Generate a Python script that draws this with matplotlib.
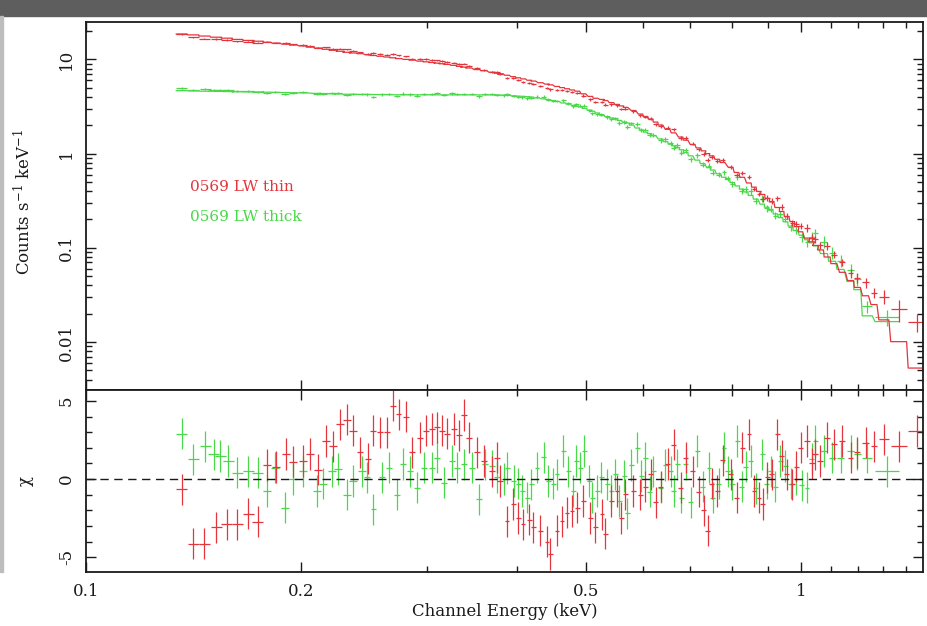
import numpy as np
import matplotlib
matplotlib.use("Agg")
import matplotlib.pyplot as plt
from matplotlib.patches import Rectangle
from matplotlib.ticker import FixedLocator, NullFormatter

# ---- 0569 LW thin (red): bin centre (keV), half width (keV), model (counts/s/keV),
#      residual chi, relative data error
E_red = [0.1361, 0.1413, 0.1464, 0.1520, 0.1574, 0.1628, 0.1687, 0.1739, 0.1790, 0.1843,
         0.1905, 0.1950, 0.2010, 0.2058, 0.2112, 0.2167, 0.2216, 0.2267, 0.2316, 0.2364,
         0.2417, 0.2480, 0.2521, 0.2578, 0.2634, 0.2686, 0.2735, 0.2804, 0.2856, 0.2933,
         0.2990, 0.3046, 0.3095, 0.3146, 0.3197, 0.3266, 0.3326, 0.3373, 0.3427, 0.3522,
         0.3597, 0.3695, 0.3755, 0.3796, 0.3878, 0.3957, 0.4021, 0.4086, 0.4166, 0.4220,
         0.4318, 0.4412, 0.4459, 0.4557, 0.4631, 0.4706, 0.4782, 0.4864, 0.4960, 0.5073,
         0.5155, 0.5268, 0.5324, 0.5428, 0.5528, 0.5605, 0.5678, 0.5827, 0.5960, 0.6057,
         0.6156, 0.6256, 0.6358, 0.6503, 0.6630, 0.6782, 0.6892, 0.7047, 0.7185, 0.7302,
         0.7396, 0.7492, 0.7631, 0.7762, 0.7965, 0.8120, 0.8270, 0.8449, 0.8587, 0.8726,
         0.8830, 0.8965, 0.9090, 0.9259, 0.9388, 0.9541, 0.9716, 0.9849, 0.9977, 1.019,
         1.034, 1.047, 1.064, 1.087, 1.111, 1.142, 1.172, 1.198, 1.230, 1.264,
         1.305, 1.369, 1.453]
dE_red = [0.0024, 0.0025, 0.0026, 0.0027, 0.0028, 0.0029, 0.0030, 0.0031, 0.0023, 0.0024,
          0.0025, 0.0025, 0.0026, 0.0027, 0.0027, 0.0028, 0.0029, 0.0029, 0.0030, 0.0030,
          0.0023, 0.0024, 0.0024, 0.0025, 0.0025, 0.0026, 0.0026, 0.0027, 0.0028, 0.0028,
          0.0029, 0.0029, 0.0030, 0.0030, 0.0031, 0.0032, 0.0032, 0.0033, 0.0033, 0.0034,
          0.0035, 0.0036, 0.0036, 0.0037, 0.0029, 0.0029, 0.0030, 0.0030, 0.0031, 0.0031,
          0.0032, 0.0033, 0.0033, 0.0034, 0.0034, 0.0035, 0.0035, 0.0036, 0.0037, 0.0038,
          0.0038, 0.0039, 0.0039, 0.0040, 0.0041, 0.0042, 0.0042, 0.0043, 0.0044, 0.0045,
          0.0046, 0.0046, 0.0047, 0.0048, 0.0049, 0.0050, 0.0051, 0.0052, 0.0053, 0.0054,
          0.0055, 0.0056, 0.0057, 0.0058, 0.0059, 0.0060, 0.0061, 0.0063, 0.0064, 0.0065,
          0.0065, 0.0066, 0.0067, 0.0069, 0.0070, 0.0071, 0.0072, 0.0073, 0.0074, 0.0099,
          0.0100, 0.0101, 0.0103, 0.0105, 0.0107, 0.0110, 0.0113, 0.0116, 0.0119, 0.0122,
          0.021, 0.035, 0.042]
model_red = [18.6, 18.2, 17.7, 17.2, 16.8, 16.3, 15.9, 15.6, 15.2, 14.9,
             14.5, 14.2, 13.9, 13.5, 13.2, 12.8, 12.5, 12.2, 11.9, 11.7,
             11.5, 11.2, 11.0, 10.8, 10.6, 10.4, 10.2, 10.0, 9.83, 9.59,
             9.42, 9.27, 9.13, 8.99, 8.85, 8.65, 8.43, 8.28, 8.11, 7.80,
             7.59, 7.31, 7.15, 7.03, 6.79, 6.56, 6.38, 6.21, 6.01, 5.89,
             5.66, 5.47, 5.37, 5.16, 5.02, 4.88, 4.74, 4.60, 4.31, 4.05,
             3.87, 3.76, 3.66, 3.48, 3.33, 3.21, 3.10, 2.87, 2.63, 2.48,
             2.33, 2.16, 2.01, 1.81, 1.66, 1.50, 1.39, 1.25, 1.15, 1.07,
             1.00, 0.946, 0.871, 0.805, 0.716, 0.631, 0.561, 0.488, 0.441, 0.397,
             0.369, 0.335, 0.307, 0.268, 0.243, 0.215, 0.190, 0.168, 0.148, 0.127,
             0.116, 0.106, 0.095, 0.080, 0.068, 0.055, 0.045, 0.038, 0.031, 0.025,
             0.0172, 0.0101, 0.0053]
chi_red = [-0.66, -4.15, -4.15, -3.08, -2.9, -2.9, -2.22, -2.74, 0.9, 0.77,
           1.6, 1.1, 1.15, 1.6, 0.6, 2.44, 2.1, 3.5, 3.8, 3.1,
           1.7, 1.3, 3.1, 3.0, 3.0, 4.7, 4.15, 4.0, 1.7, 2.65,
           3.1, 3.2, 3.3, 3.1, 2.9, 3.2, 2.8, 4.1, 2.65, 1.7,
           1.15, 0.5, 1.37, -0.13, -2.7, -1.6, -2.5, -2.9, -2.6, -3.1,
           -3.3, -4.0, -4.8, -3.3, -2.7, -2.16, -2.05, -1.84, -1.4, -2.5,
           -3.1, -2.26, -3.5, -1.4, -0.77, -2.5, -0.98, -0.77, -1.0, -0.5,
           0.3, -1.5, -0.5, 0.96, 2.2, -0.55, 1.37, 0.5, -0.8, -2.0,
           -3.3, -0.3, -0.77, 1.2, 0.3, -1.2, 2.0, 2.86, -0.77, -1.2,
           -1.6, 0.1, 0.3, 2.86, 1.5, 0.3, -0.34, 0.8, 2.0, 2.44,
           1.0, 1.58, 1.15, 2.65, 2.22, 2.44, 1.37, 1.7, 2.33, 2.1,
           2.54, 2.1, 3.08]
relerr_red = [0.015, 0.015, 0.015, 0.015, 0.015, 0.015, 0.015, 0.015, 0.018, 0.018,
              0.018, 0.018, 0.018, 0.018, 0.018, 0.018, 0.018, 0.018, 0.018, 0.018,
              0.018, 0.018, 0.018, 0.018, 0.018, 0.018, 0.018, 0.018, 0.02, 0.02,
              0.02, 0.02, 0.02, 0.02, 0.02, 0.02, 0.02, 0.02, 0.02, 0.02,
              0.02, 0.02, 0.02, 0.02, 0.025, 0.025, 0.025, 0.025, 0.025, 0.025,
              0.025, 0.025, 0.025, 0.025, 0.025, 0.025, 0.025, 0.025, 0.03, 0.03,
              0.03, 0.03, 0.03, 0.03, 0.03, 0.03, 0.03, 0.03, 0.03, 0.03,
              0.04, 0.04, 0.04, 0.04, 0.04, 0.04, 0.04, 0.04, 0.04, 0.04,
              0.05, 0.05, 0.05, 0.05, 0.05, 0.05, 0.05, 0.05, 0.05, 0.05,
              0.07, 0.07, 0.07, 0.07, 0.07, 0.07, 0.07, 0.07, 0.07, 0.09,
              0.09, 0.09, 0.09, 0.09, 0.09, 0.09, 0.12, 0.12, 0.12, 0.12,
              0.17, 0.26, 0.22]

# ---- 0569 LW thick (green)
E_grn = [0.1361, 0.1413, 0.1467, 0.1509, 0.1540, 0.1582, 0.1628, 0.1687, 0.1739, 0.1790,
         0.1838, 0.1898, 0.1950, 0.2014, 0.2103, 0.2146, 0.2207, 0.2253, 0.2316, 0.2364,
         0.2430, 0.2470, 0.2523, 0.2593, 0.2649, 0.2721, 0.2777, 0.2840, 0.2903, 0.2965,
         0.3046, 0.3095, 0.3162, 0.3249, 0.3302, 0.3373, 0.3465, 0.3539, 0.3616, 0.3695,
         0.3758, 0.3836, 0.3883, 0.3962, 0.4021, 0.4074, 0.4140, 0.4194, 0.4272, 0.4365,
         0.4431, 0.4503, 0.4557, 0.4650, 0.4726, 0.4802, 0.4849, 0.4912, 0.4976, 0.5057,
         0.5106, 0.5188, 0.5255, 0.5358, 0.5428, 0.5498, 0.5569, 0.5660, 0.5715, 0.5789,
         0.5902, 0.5979, 0.6057, 0.6136, 0.6215, 0.6358, 0.6459, 0.6566, 0.6633, 0.6713,
         0.6800, 0.6892, 0.7003, 0.7156, 0.7279, 0.7428, 0.7517, 0.7664, 0.7796, 0.7889,
         0.8010, 0.8140, 0.8253, 0.8360, 0.8497, 0.8635, 0.8823, 0.8946, 0.9063, 0.9205,
         0.9354, 0.9506, 0.9661, 0.9818, 1.001, 1.019, 1.034, 1.047, 1.076, 1.105,
         1.135, 1.172, 1.198, 1.237, 1.319]
dE_grn = [0.0024, 0.0025, 0.0026, 0.0027, 0.0027, 0.0028, 0.0029, 0.0030, 0.0031, 0.0023,
          0.0024, 0.0024, 0.0025, 0.0026, 0.0027, 0.0028, 0.0028, 0.0029, 0.0030, 0.0030,
          0.0031, 0.0024, 0.0024, 0.0025, 0.0026, 0.0026, 0.0027, 0.0027, 0.0028, 0.0029,
          0.0029, 0.0030, 0.0031, 0.0031, 0.0032, 0.0033, 0.0034, 0.0034, 0.0035, 0.0036,
          0.0036, 0.0028, 0.0029, 0.0029, 0.0030, 0.0030, 0.0031, 0.0031, 0.0032, 0.0032,
          0.0033, 0.0033, 0.0034, 0.0034, 0.0035, 0.0036, 0.0036, 0.0036, 0.0037, 0.0037,
          0.0038, 0.0038, 0.0039, 0.0040, 0.0040, 0.0041, 0.0041, 0.0042, 0.0042, 0.0043,
          0.0044, 0.0044, 0.0045, 0.0045, 0.0046, 0.0047, 0.0048, 0.0049, 0.0049, 0.0050,
          0.0050, 0.0051, 0.0052, 0.0053, 0.0054, 0.0055, 0.0056, 0.0057, 0.0058, 0.0058,
          0.0059, 0.0060, 0.0061, 0.0062, 0.0063, 0.0064, 0.0065, 0.0066, 0.0067, 0.0068,
          0.0069, 0.0070, 0.0072, 0.0073, 0.0074, 0.0076, 0.0077, 0.0078, 0.0121, 0.0125,
          0.0128, 0.0132, 0.0135, 0.0199, 0.051]
model_grn = [4.66, 4.63, 4.60, 4.59, 4.58, 4.56, 4.54, 4.52, 4.51, 4.49,
             4.47, 4.45, 4.43, 4.41, 4.36, 4.34, 4.32, 4.30, 4.27, 4.26,
             4.25, 4.24, 4.24, 4.23, 4.22, 4.21, 4.20, 4.20, 4.20, 4.20,
             4.20, 4.20, 4.20, 4.20, 4.20, 4.20, 4.20, 4.20, 4.20, 4.20,
             4.20, 4.18, 4.15, 4.11, 4.07, 4.06, 4.02, 3.98, 3.90, 3.81,
             3.74, 3.66, 3.58, 3.45, 3.35, 3.26, 3.20, 3.13, 3.02, 2.89,
             2.82, 2.70, 2.59, 2.47, 2.39, 2.33, 2.25, 2.16, 2.11, 2.01,
             1.87, 1.78, 1.69, 1.63, 1.55, 1.43, 1.34, 1.26, 1.21, 1.16,
             1.10, 1.03, 0.948, 0.853, 0.783, 0.710, 0.670, 0.611, 0.562, 0.531,
             0.493, 0.454, 0.420, 0.392, 0.360, 0.329, 0.291, 0.270, 0.251, 0.229,
             0.209, 0.189, 0.170, 0.153, 0.136, 0.122, 0.113, 0.105, 0.087, 0.072,
             0.059, 0.044, 0.036, 0.019, 0.0165]
chi_grn = [2.9, 1.26, 2.1, 1.58, 1.47, 1.15, 0.4, 0.5, 0.4, -0.77,
           0.72, -1.84, 0.0, 0.5, -0.77, -0.3, 0.5, 0.64, -1.0, -0.13,
           0.5, 0.1, -1.95, 0.1, 0.72, -1.0, 0.96, 0.5, -0.55, 0.72,
           0.72, 1.37, -0.24, 1.15, 0.72, 0.94, 0.72, -1.3, 0.94, 0.83,
           0.1, 0.0, 0.7, -0.13, -0.3, -0.77, -1.2, -0.34, 0.72, 1.4,
           -0.13, -0.3, 0.3, 1.8, 0.5, -0.77, 1.15, 0.72, 1.8, -0.13,
           -1.2, -0.77, 0.1, -0.34, -0.77, 0.3, -1.4, 0.2, -2.2, 0.9,
           2.0, 0.2, 1.37, -0.8, 0.5, -0.55, 0.9, 0.5, -0.77, 0.94,
           -1.2, 0.94, -1.5, 1.8, -0.5, 0.72, -1.2, -0.3, 2.0, 0.5,
           -0.34, 2.44, -0.5, 0.8, 1.15, -0.6, 1.58, -0.3, 0.5, -0.5,
           1.15, 0.83, -0.3, 0.0, -0.4, -0.55, 1.3, 2.44, 1.8, 1.37,
           1.37, 1.8, 1.58, 1.37, 0.5]
relerr_grn = [0.025, 0.025, 0.025, 0.025, 0.025, 0.025, 0.025, 0.025, 0.025, 0.025,
              0.025, 0.025, 0.025, 0.025, 0.025, 0.025, 0.025, 0.025, 0.025, 0.025,
              0.025, 0.03, 0.03, 0.03, 0.03, 0.03, 0.03, 0.03, 0.03, 0.03,
              0.03, 0.03, 0.03, 0.03, 0.03, 0.03, 0.03, 0.03, 0.03, 0.03,
              0.03, 0.035, 0.035, 0.035, 0.035, 0.035, 0.035, 0.035, 0.035, 0.035,
              0.035, 0.035, 0.035, 0.035, 0.035, 0.035, 0.035, 0.035, 0.035, 0.035,
              0.045, 0.045, 0.045, 0.045, 0.045, 0.045, 0.045, 0.045, 0.045, 0.045,
              0.045, 0.045, 0.045, 0.045, 0.045, 0.06, 0.06, 0.06, 0.06, 0.06,
              0.06, 0.06, 0.06, 0.06, 0.06, 0.06, 0.06, 0.06, 0.06, 0.06,
              0.08, 0.08, 0.08, 0.08, 0.08, 0.08, 0.08, 0.08, 0.08, 0.08,
              0.08, 0.08, 0.08, 0.08, 0.11, 0.11, 0.11, 0.11, 0.14, 0.14,
              0.14, 0.14, 0.14, 0.15, 0.2]

labels = ["0569 LW thin", "0569 LW thick"]
x_ticks = [0.1, 0.2, 0.5, 1]
x_ticklabels = ["0.1", "0.2", "0.5", "1"]
y_ticks = [0.01, 0.1, 1, 10]
y_ticklabels = ["0.01", "0.1", "1", "10"]
chi_ticks = [-5, 0, 5]

RED = "#e4343c"
GREEN = "#48d848"
INK = "#1a1a1a"

plt.rcParams["font.family"] = "DejaVu Serif"
plt.rcParams["mathtext.fontset"] = "dejavuserif"
plt.rcParams["font.size"] = 12
plt.rcParams["axes.unicode_minus"] = False


def steps(e, de, m):
    e, de, m = map(np.asarray, (e, de, m))
    xs = np.column_stack([e - de, e + de]).ravel()
    ys = np.repeat(m, 2)
    return xs, ys


def style(ax):
    ax.set_xscale("log")
    ax.set_xlim(0.1, 1.48)
    ax.xaxis.set_major_locator(FixedLocator(x_ticks))
    ax.xaxis.set_minor_locator(FixedLocator([0.3, 0.4, 0.6, 0.7, 0.8, 0.9, 1.1, 1.2, 1.3, 1.4]))
    ax.xaxis.set_minor_formatter(NullFormatter())
    ax.tick_params(which="both", direction="in", top=True, right=True,
                   colors=INK, width=1.0)
    ax.tick_params(which="major", length=7)
    ax.tick_params(which="minor", length=4)
    for s in ax.spines.values():
        s.set_linewidth(1.3)
        s.set_color(INK)


fig = plt.figure(figsize=(9.28, 6.26), dpi=100)
fig.patches.append(Rectangle((0, 1 - 16 / 626), 1, 16 / 626, transform=fig.transFigure,
                             color="#5e5e5e", zorder=0))
fig.patches.append(Rectangle((0, 54 / 626), 3 / 928, 556 / 626, transform=fig.transFigure,
                             color="#bdbdbd", zorder=0))

ax1 = fig.add_axes([0.0927, 0.377, 0.9019, 0.588])
ax2 = fig.add_axes([0.0927, 0.0863, 0.9019, 0.2907])

for E, dE, mod, chi, rel, col in [(E_grn, dE_grn, model_grn, chi_grn, relerr_grn, GREEN),
                                  (E_red, dE_red, model_red, chi_red, relerr_red, RED)]:
    E, dE, mod, chi, rel = map(np.asarray, (E, dE, mod, chi, rel))
    data = mod / (1 - chi * rel)
    err = rel * data
    ax1.errorbar(E, data, xerr=dE, yerr=err, fmt="none", ecolor=col, elinewidth=0.9)
    xs, ys = steps(E, dE, mod)
    ax1.plot(xs, ys, color=col, lw=0.9)
    ax2.errorbar(E, chi, xerr=dE, yerr=np.ones_like(chi), fmt="none", ecolor=col,
                 elinewidth=0.9)

# top panel
style(ax1)
ax1.set_yscale("log")
ax1.set_ylim(0.0031, 25)
ax1.yaxis.set_major_locator(FixedLocator(y_ticks))
ax1.set_yticklabels(y_ticklabels)
ax1.yaxis.set_minor_locator(FixedLocator(
    [k * 10.0 ** p for p in range(-3, 2) for k in range(2, 10)]))
ax1.yaxis.set_minor_formatter(NullFormatter())
ax1.tick_params(axis="x", labelbottom=False)
ax1.tick_params(axis="y", labelrotation=90, pad=8)
for t in ax1.get_yticklabels():
    t.set_verticalalignment("center")
ax1.set_ylabel("Counts s$^{-1}$ keV$^{-1}$", color=INK)
ax1.yaxis.set_label_coords(-0.062, 0.51)
ax1.text(0.124, 0.552, labels[0], color=RED, fontsize=11, transform=ax1.transAxes,
         va="center")
ax1.text(0.124, 0.470, labels[1], color=GREEN, fontsize=11, transform=ax1.transAxes,
         va="center")

# residual panel
style(ax2)
ax2.set_ylim(-5.95, 5.7)
ax2.yaxis.set_major_locator(FixedLocator(chi_ticks))
ax2.yaxis.set_minor_locator(FixedLocator([k for k in range(-5, 6) if k % 5]))
ax2.set_xticklabels(x_ticklabels)
ax2.tick_params(axis="x", pad=8)
ax2.tick_params(axis="y", labelrotation=90, pad=8)
for t in ax2.get_yticklabels():
    t.set_verticalalignment("center")
ax2.axhline(0, color=INK, lw=1.0, linestyle=(0, (6, 4)))
ax2.set_ylabel("χ", color=INK)
ax2.yaxis.set_label_coords(-0.062, 0.5)
ax2.set_xlabel("Channel Energy (keV)", color=INK)
ax2.xaxis.set_label_coords(0.5, -0.17)

fig.savefig("out.png", dpi=100)
